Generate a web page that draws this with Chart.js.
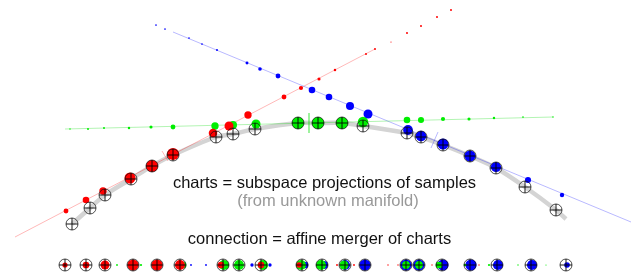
<!DOCTYPE html>
<html>
<head>
<meta charset="utf-8">
<script src="https://cdn.jsdelivr.net/npm/chart.js@4"></script>
<style>
html,body{margin:0;padding:0;background:#fff;}
#wrap{width:631px;height:275px;}
</style>
</head>
<body>
<div id="wrap"><canvas id="c" width="631" height="275"></canvas></div>
<script>
// ---- data ----
const samplesX = [72,90,105,131,152,173,216,233,255,298,318,342,363,407,421,443,470,496,525,556];
const samplesY = [224,208,195,179,166,155,137,134,129,123,123,123,126,133,137,145,156,168,187,210];
const manifoldEndX = [566];
const manifoldEndY = [219];

// chart weights (dot sizes) per projected sample
const redX = [66,86,103,130,152,173,213,229,248,284,301,319,335,366,375,391,407,421,437,451];
const redY = [211,200,191,178,166,154,133,126,115,97,88,79,70,54,49,42,33,26,17,10];
const redW = [2,2.7,3,4.5,5,5,3.5,3.7,3,2,1.7,1.3,1,0.8,0.8,0.5,0.8,0.8,0.8,0.8];

const greenX = [70,88,104,129,151,173,215,233,256,298,318,342,363,407,421,443,469,494,523,553];
const greenY = [129,129,128,128,127,127,126,125,124,123,123,123,122,120,120,119,119,118,117,117];
const greenW = [0.6,0.8,0.8,1,1.3,2,3,3.3,3.7,5,5,5,4.3,2.7,2.5,1.7,1.3,1,0.7,0.6];

const blueX = [156,165,189,202,217,247,260,278,312,329,350,368,408,421,443,470,496,528,562];
const blueY = [25,29,38,44,50,63,69,76,90,97,106,114,130,136,144,156,167,180,195];
const blueW = [0.7,0.7,0.7,0.7,0.8,1.2,1.5,2,2.7,2.7,3.3,3.7,4,4.3,4.5,4.5,4.2,2.5,1.8];

const redLineX = [15,375], redLineY = [237,49];
const greenLineX = [65,553], greenLineY = [129,117];
const blueLineX = [173,631], blueLineY = [32,222];

const redTickX = [162,168], redTickY = [151,161];
const greenTickX = [309,309], greenTickY = [113,133];
const blueTickX = [438,431], blueTickY = [132,148];

const bottomY = 265;
const bottomMarkX = [65,86,105,133,157,180,223,239,261,302,322,345,365,406,419,442,470,497,531,566];
const bottomRedX = [65,86,105,133,157,180,221,261,299,337,354,388,398,432,479];
const bottomRedW = [2.3,3,4,5,5,4.5,3,3,2.5,0.8,0.8,0.6,0.6,0.6,0.6];
const bottomGreenX = [117,141,160,183,224,239,263,301,321,344,406,419,439,465,489,518,546];
const bottomGreenW = [0.8,1,2,3,4.5,4.5,4.5,4.5,4.5,4,3.5,3.5,3,1.2,1,0.6,0.5];
const bottomBlueX = [191,206,252,270,305,324,345,365,406,419,443,471,498,532,567];
const bottomBlueW = [0.8,0.8,1.5,1.5,3,3.5,4.5,5,5,5,5,5,4.5,4.5,2.5];

const texts = [
  {t:'charts = subspace projections of samples', x:324.5, y:188, c:'#111'},
  {t:'(from unknown manifold)', x:328, y:206, c:'#999'},
  {t:'connection = affine merger of charts', x:319.5, y:244, c:'#111'}
];

// ---- build ----
const DOT_SCALE = 1.22, BOTTOM_SCALE = 1.12;
const pts = (xs, ys) => xs.map((x,i)=>({x, y: ys[i]}));
const row = (xs) => xs.map(x=>({x, y: bottomY}));
const rad = (ws, k) => ws.map(w => Math.max(0.6, w * k));

const lineDS = (xs, ys, color, w, order) => ({
  data: pts(xs, ys), showLine: true, borderColor: color, borderWidth: w,
  pointRadius: 0, fill: false, order, clip: false
});
const dotDS = (data, r, color, order) => ({
  data, pointRadius: r, backgroundColor: color, pointBorderWidth: 0,
  borderWidth: 0, showLine: false, order, clip: false
});

const ringColor = 'rgba(20,20,20,0.75)';
const allMarks = pts(samplesX, samplesY).concat(row(bottomMarkX));

const datasets = [
  Object.assign(lineDS(samplesX.concat(manifoldEndX), samplesY.concat(manifoldEndY), '#d4d4d4', 4.5, 100), {tension: 0.3}),
  lineDS(redLineX, redLineY, 'rgba(255,0,0,0.28)', 1, 90),
  lineDS(greenLineX, greenLineY, 'rgba(0,220,0,0.3)', 1, 90),
  lineDS(blueLineX, blueLineY, 'rgba(0,0,255,0.28)', 1, 90),
  lineDS(redTickX, redTickY, 'rgba(255,0,0,0.28)', 1, 89),
  lineDS(greenTickX, greenTickY, 'rgba(0,220,0,0.3)', 1, 89),
  lineDS(blueTickX, blueTickY, 'rgba(0,0,255,0.28)', 1, 89),
  dotDS(pts(blueX, blueY), rad(blueW, DOT_SCALE), '#0000ff', 50),
  dotDS(pts(greenX, greenY), rad(greenW, DOT_SCALE), '#00ee00', 49),
  dotDS(pts(redX, redY), rad(redW, DOT_SCALE), '#ff0000', 48),
  dotDS(row(bottomBlueX), rad(bottomBlueW, BOTTOM_SCALE), '#0000ff', 50),
  dotDS(row(bottomGreenX), rad(bottomGreenW, BOTTOM_SCALE), '#00ee00', 49),
  dotDS(row(bottomRedX), rad(bottomRedW, BOTTOM_SCALE), '#ff0000', 48),
  {data: allMarks, pointStyle: 'circle', pointRadius: 6, backgroundColor: 'rgba(0,0,0,0)',
   pointBorderColor: ringColor, pointBorderWidth: 1, showLine: false, order: 20, clip: false},
  {data: allMarks, pointStyle: 'cross', pointRadius: 6, pointBorderColor: 'rgba(0,0,0,0.9)',
   pointBorderWidth: 1, showLine: false, order: 10, clip: false}
];

const textPlugin = {
  id: 'texts',
  afterDraw(chart) {
    const ctx = chart.ctx;
    const xs = chart.scales.x, ys = chart.scales.y;
    ctx.save();
    ctx.font = '16.5px "Liberation Sans", Arial, sans-serif';
    ctx.textAlign = 'center';
    ctx.textBaseline = 'alphabetic';
    texts.forEach(o => {
      ctx.fillStyle = o.c;
      ctx.fillText(o.t, xs.getPixelForValue(o.x), ys.getPixelForValue(o.y));
    });
    ctx.restore();
  }
};

new Chart(document.getElementById('c'), {
  type: 'scatter',
  data: { datasets },
  options: {
    responsive: false,
    animation: false,
    devicePixelRatio: 1,
    layout: { padding: 0, autoPadding: false },
    plugins: { legend: {display: false}, tooltip: {enabled: false}, title: {display: false} },
    scales: {
      x: { type: 'linear', min: 0, max: 631, display: false },
      y: { type: 'linear', min: 0, max: 275, reverse: true, display: false }
    }
  },
  plugins: [textPlugin]
});
</script>
</body>
</html>
